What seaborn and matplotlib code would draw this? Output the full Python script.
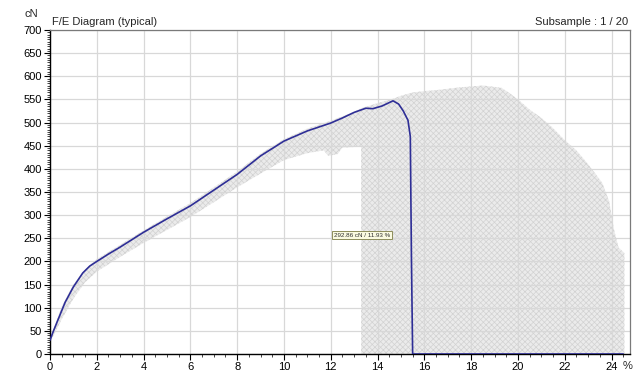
import numpy as np
import pandas as pd
import matplotlib
matplotlib.use("Agg")
import matplotlib.pyplot as plt
import seaborn as sns
from matplotlib.ticker import MultipleLocator

# typical force/elongation curve (elongation %, force cN)
curve_x = [0, 0.15, 0.35, 0.65, 1.0, 1.4, 1.7, 2.0, 2.5, 3, 4, 5, 6, 7, 8, 9, 10,
           11, 12, 12.5, 13, 13.5, 13.8, 14.2, 14.66, 14.9, 15.1, 15.3, 15.4, 15.45,
           15.5, 24.5]
curve_y = [30, 50, 75, 112, 145, 175, 190, 200, 216, 231, 263, 292, 320, 354, 388,
           428, 460, 482, 499, 510, 522, 531, 530, 536, 547, 540, 525, 505, 470, 200,
           0, 0]

# envelope of all subsamples
env_up_x = [0, 0.5, 1, 1.5, 2, 3, 4, 5, 6, 7, 8, 9, 10, 11, 12, 13, 13.3, 14, 14.7,
            15, 15.5, 16, 16.5, 17, 17.5, 18, 18.5, 19, 19.3, 19.6, 20, 20.5, 21,
            21.5, 22, 22.5, 23, 23.3, 23.6, 23.9, 24.1, 24.3, 24.55, 24.55]
env_up_y = [32, 102, 150, 182, 205, 236, 267, 297, 326, 360, 394, 433, 464, 487,
            504, 523, 531, 542, 552, 558, 565, 568, 570, 573, 576, 578, 580, 577,
            575, 565, 550, 528, 510, 488, 462, 440, 410, 390, 370, 330, 270, 230,
            218, 0]
env_low_x = [0, 0.5, 1, 1.5, 2, 3, 4, 5, 6, 7, 8, 9, 10, 11, 11.7, 11.9, 12.3,
             12.5, 13.3, 13.3]
env_low_y = [25, 75, 120, 155, 178, 210, 240, 268, 296, 328, 360, 390, 419, 434,
             440, 428, 432, 446, 448, 0]

marker_label = "292.86 cN / 11.93 %"
marker_pos = (13.33, 257)

sns.set_style("white")
plt.rcParams['font.family'] = ['Liberation Sans', 'DejaVu Sans']
plt.rcParams['hatch.linewidth'] = 0.5

fig = plt.figure(figsize=(6.44, 3.80), dpi=100)
ax = fig.add_axes([50 / 644, 26 / 380, 580 / 644, 324 / 380])

poly_x = np.r_[env_up_x, env_low_x[::-1]]
poly_y = np.r_[env_up_y, env_low_y[::-1]]
ax.fill(poly_x, poly_y, facecolor='#ebebeb', edgecolor='#d2d2d2', hatch='xxxxxx',
        linewidth=0, zorder=0.3)

df = pd.DataFrame({'Elongation': curve_x, 'Force': curve_y})
sns.lineplot(data=df, x='Elongation', y='Force', sort=False, color='#2e2e96',
             linewidth=1.2, ax=ax, zorder=3)

ax.set_xlim(0, 24.79)
ax.set_ylim(0, 700)
ax.xaxis.set_major_locator(MultipleLocator(2))
ax.xaxis.set_minor_locator(MultipleLocator(0.5))
ax.yaxis.set_major_locator(MultipleLocator(50))
ax.yaxis.set_minor_locator(MultipleLocator(5))
ax.tick_params(which='major', length=4, width=0.8, labelsize=8, pad=2,
               colors='black', left=True, bottom=True)
ax.tick_params(which='minor', length=2, width=0.6, left=True, bottom=True)
ax.set_axisbelow(True)
ax.grid(True, which='major', color='#d8d8d8', linewidth=0.9)
ax.set_xlabel("")
ax.set_ylabel("")
for s in ['left', 'bottom']:
    ax.spines[s].set_color('black')
    ax.spines[s].set_linewidth(1.0)
for s in ['top', 'right']:
    ax.spines[s].set_color('#7a7a7a')
    ax.spines[s].set_linewidth(0.9)

ax.text(marker_pos[0], marker_pos[1], marker_label, fontsize=4.5, ha='center',
        va='center', color='#303030', zorder=5,
        bbox=dict(boxstyle='square,pad=0.25', facecolor='#fafae0',
                  edgecolor='#8c8c5a', linewidth=0.7))

fig.text(52 / 644, 1 - 22 / 380, "F/E Diagram (typical)", fontsize=8, ha='left',
         va='center')
fig.text(628 / 644, 1 - 22 / 380, "Subsample : 1 / 20", fontsize=8, ha='right',
         va='center')
fig.text(31 / 644, 1 - 14 / 380, "cN", fontsize=8, ha='center', va='center')
fig.text(628 / 644, 1 - 366 / 380, "%", fontsize=8, ha='center', va='center')

fig.savefig("out.png", dpi=100)
plt.close(fig)
